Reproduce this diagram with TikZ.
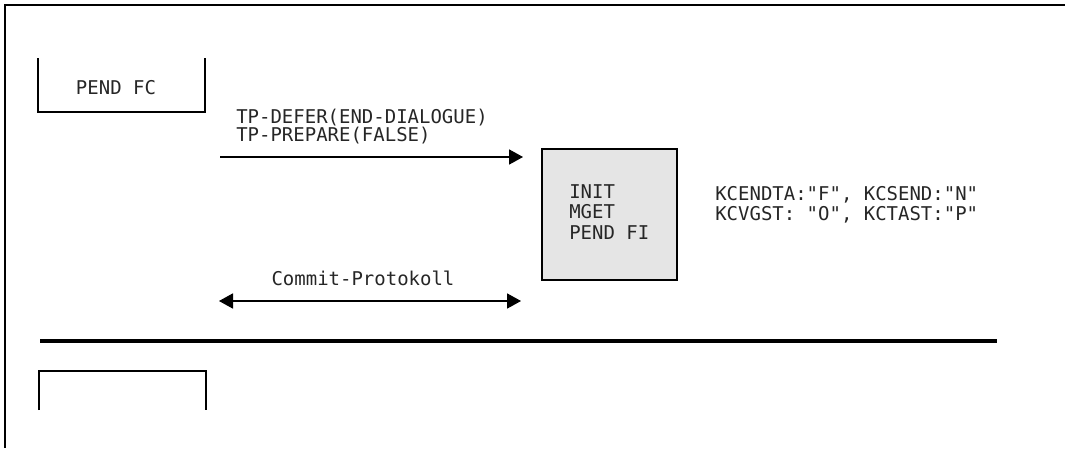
\documentclass[tikz,border=0pt]{standalone}
\usepackage{fontspec}
\usepackage{tikz}
\usetikzlibrary{arrows.meta}
\newfontfamily\monofont{DejaVu Sans Mono}
\newcommand{\msgfont}[1]{\monofont\fontsize{13.5}{#1}\selectfont\lineskiplimit=-10pt}

\begin{document}
\begin{tikzpicture}[x=0.025cm,y=-0.025cm,
  lbl/.style={font=\msgfont{14.6pt},text=black!85,inner sep=0pt,align=left},
  msg/.style={line width=0.75pt,-{Triangle[length=3.5mm,width=3.8mm]}},
  both/.style={line width=0.75pt,{Triangle[length=3.5mm,width=3.8mm]}-{Triangle[length=3.5mm,width=3.8mm]}}]
\useasboundingbox (0,0) rectangle (1065,448);
% frame
\draw[line width=1.1pt] (1065,5) -- (5,5) -- (5,448);
% upper partner: open box
\draw[line width=0.8pt] (38,58) -- (38,112) -- (205,112) -- (205,58);
\node[lbl,anchor=center] (pendfc) at (116,88) {PEND FC};
% message to the lower partner
\node[lbl,anchor=north west,font=\msgfont{12.6pt}] (tpcall) at (236,109)
  {TP-DEFER(END-DIALOGUE)\\TP-PREPARE(FALSE)};
\coordinate (defer-s) at (220,157);
\coordinate (defer-e) at (523,157);
\draw[msg] (defer-s) -- (defer-e);
% called program box
\draw[line width=0.9pt,fill=black!10] (542,149) rectangle (677,280);
\node[lbl,anchor=north west,font=\msgfont{14.6pt}] (calls) at (569,184)
  {INIT\\MGET\\PEND FI};
\node[lbl,anchor=north west,font=\msgfont{14.2pt}] (kbfields) at (715,186)
  {KCENDTA:"F", KCSEND:"N"\\KCVGST: "O", KCTAST:"P"};
% commit
\node[lbl,anchor=base] (commit) at (363,285) {Commit-Protokoll};
\coordinate (commit-l) at (219,301);
\coordinate (commit-r) at (521,301);
\draw[both] (commit-l) -- (commit-r);
% separator and lower partner
\draw[line width=3pt] (40,341) -- (997,341);
\draw[line width=0.8pt] (39,410) -- (39,371) -- (206,371) -- (206,410);
\end{tikzpicture}
\end{document}
